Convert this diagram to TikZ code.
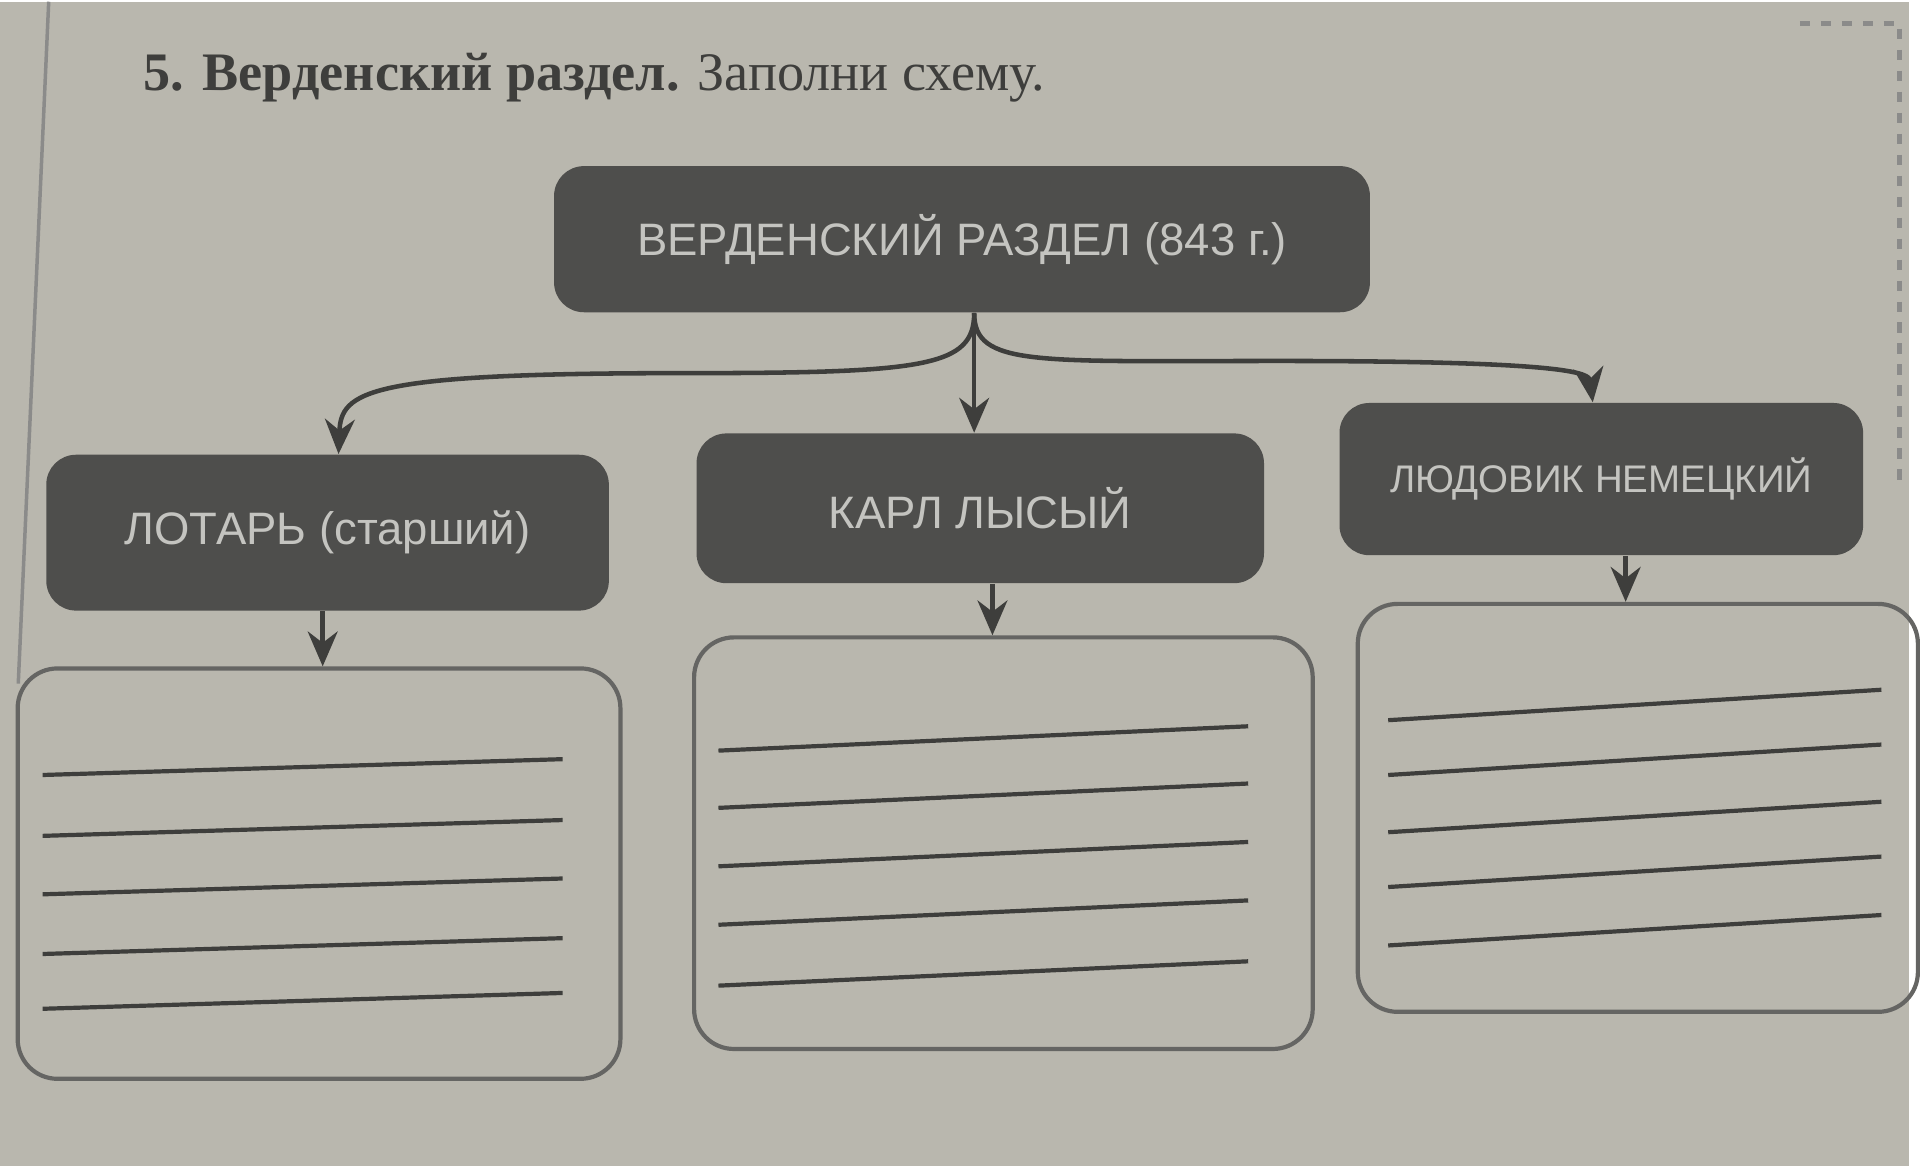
\documentclass[tikz,border=0pt]{standalone}
\usepackage{fontspec}
\setmainfont{Liberation Serif}
\newfontfamily\boxfont{Liberation Sans}
\usetikzlibrary{positioning,arrows.meta}
\definecolor{paper}{HTML}{B9B7AE}
\definecolor{boxgray}{HTML}{4E4E4C}
\definecolor{boxtext}{HTML}{C4C4C0}
\definecolor{ink}{HTML}{3E3E3C}
\begin{document}
\begin{tikzpicture}[x=0.012245cm,y=-0.012245cm,
		darknode/.style={rectangle, rounded corners=0.3cm, fill=boxgray, text=boxtext, font=\boxfont\fontsize{13}{15}\selectfont, inner sep=0pt},
		blanknode/.style={rectangle, rounded corners=0.4cm, draw=ink!80, line width=1.2pt, inner sep=0pt},
		path/.style={draw=ink, line width=1.3pt, -{Stealth[length=3.5mm,width=3mm]}}
		]
		
		% Background
		\fill[paper] (0,0) rectangle (1568,956);
		\draw[ink!60, line width=1pt] (40,0) -- (15,560);
		\draw[ink!60, line width=1.5pt, dashed] (1478,18) -- (1560,18) -- (1560,400);
		
		% Title
		\node[anchor=west, text=ink, font=\fontsize{15.5}{18}\selectfont] (title) at (108,62) {\textbf{5. Верденский раздел.} Заполни схему.};
		
		% Nodes
		\node[darknode, minimum width=670*0.012245cm, minimum height=120*0.012245cm] (verden) at (790,195) {ВЕРДЕНСКИЙ РАЗДЕЛ (843 г.)};
		\node[darknode, minimum width=462*0.012245cm, minimum height=128*0.012245cm] (lotar) at (269,436) {ЛОТАРЬ (старший)};
		\node[darknode, minimum width=466*0.012245cm, minimum height=123*0.012245cm] (karl) at (805,416) {КАРЛ ЛЫСЫЙ};
		\node[darknode, minimum width=430*0.012245cm, minimum height=125*0.012245cm, font=\boxfont\fontsize{11}{13}\selectfont] (ludovik) at (1315,392) {ЛЮДОВИК НЕМЕЦКИЙ};
		
		\node[blanknode, minimum width=495*0.012245cm, minimum height=337*0.012245cm] (box1) at (262,716) {};
		\node[blanknode, minimum width=508*0.012245cm, minimum height=338*0.012245cm] (box2) at (824,691) {};
		\node[blanknode, minimum width=460*0.012245cm, minimum height=335*0.012245cm] (box3) at (1345,662) {};
		
		% Lines to fill in
		\foreach \y in {630,680,728,777,822} \draw[ink, line width=1.2pt] (35,\y+5) -- (462,\y-8);
		\foreach \y in {615,662,710,758,808} \draw[ink, line width=1.2pt] (590,\y) -- (1025,\y-20);
		\foreach \y in {590,635,682,727,775} \draw[ink, line width=1.2pt] (1140,\y) -- (1545,\y-25);
		
		% Split
		\coordinate (fork) at (800,252);
		\path[path] (verden.south -| fork) .. controls (800,300) and (760,305) .. (560,305) .. controls (300,305) and (280,320) .. (lotar.north -| 278,0);
		\path[path] (verden.south -| fork) -- (karl.north -| fork);
		\path[path] (verden.south -| fork) .. controls (800,300) and (850,295) .. (1050,295) .. controls (1290,295) and (1305,305) .. (ludovik.north -| 1308,0);
		
		% Down
		\path[path] (lotar.south -| 265,0) -- (box1.north -| 265,0);
		\path[path] (karl.south -| 815,0) -- (box2.north -| 815,0);
		\path[path] (ludovik.south -| 1335,0) -- (box3.north -| 1335,0);
	\end{tikzpicture}
\end{document}
